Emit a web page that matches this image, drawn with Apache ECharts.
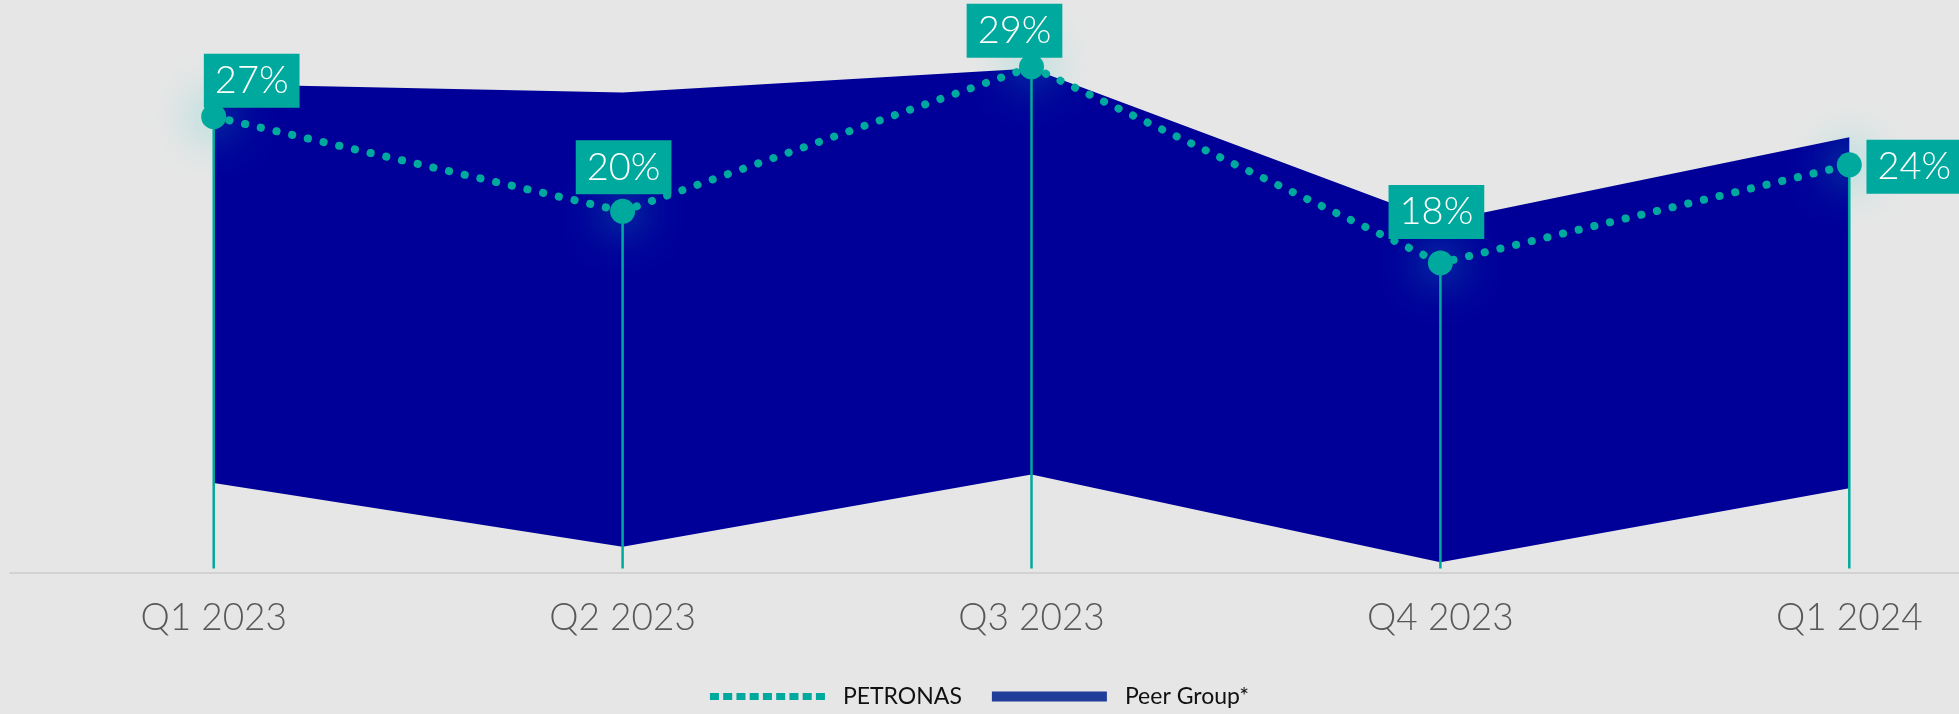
<!DOCTYPE html>
<html>
<head>
<meta charset="utf-8">
<script src="https://cdn.jsdelivr.net/npm/echarts@6/dist/echarts.min.js"></script>
<style>
html,body{margin:0;padding:0;background:#e6e6e6;}
#chart{width:1959px;height:714px;}
</style>
</head>
<body>
<div id="chart"></div>
<script>
// ---- data ----
const categories = ['Q1 2023', 'Q2 2023', 'Q3 2023', 'Q4 2023', 'Q1 2024'];
const petronas = [26.5, 21.0, 29.4, 18.0, 23.7];          // plotted positions
const petronasLabels = ['27%', '20%', '29%', '18%', '24%']; // printed labels
const peerUpper = [28.4, 27.9, 29.3, 20.4, 25.3];
const peerLower = [5.2, 1.5, 5.7, 0.6, 4.9];
const legendNames = ['PETRONAS', 'Peer Group*'];

// ---- styling ----
const TEAL = '#00a99d';
const BAND = '#000099';
const labelOffsets = [[38, -36], [1, -44], [-17, -36], [-4, -51], [65, 2]];

const peerSpan = peerUpper.map((u, i) => +(u - peerLower[i]).toFixed(2));

// dotted legend icon: 9 small squares
let iconPath = 'path://M0,-1.5L0.01,-1.5L0.01,-1.5Z M0,8.5L0.01,8.5L0.01,8.5Z';
for (let i = 0; i < 9; i++) {
  const x = i * 13.25;
  iconPath += ` M${x},0L${x + 9},0L${x + 9},7L${x},7Z`;
}

const chart = echarts.init(document.getElementById('chart'), null, {renderer: 'canvas'});

const option = {
  backgroundColor: '#e6e6e6',
  animation: false,
  legend: {
    left: 'center',
    top: 680,
    itemWidth: 115,
    itemHeight: 10,
    itemGap: 30,
    textStyle: {fontFamily: 'Lato', fontSize: 23, color: '#111', padding: [0, 0, 0, 13]},
    data: [
      {name: legendNames[0], icon: iconPath, itemStyle: {color: TEAL, borderWidth: 0}},
      {name: legendNames[1], icon: 'rect', itemStyle: {color: '#1f3d99', borderWidth: 0}}
    ]
  },
  grid: [
    {left: 213.7, right: 109.7, top: 56.5, bottom: 141.5, outerBoundsMode: 'none'},
    {left: 10, right: 0, top: 56.5, bottom: 141.5, outerBoundsMode: 'none'}
  ],
  xAxis: [
    {
      type: 'category', gridIndex: 0, data: categories, boundaryGap: false,
      axisLine: {show: false}, axisTick: {show: false}, splitLine: {show: false},
      axisLabel: {fontFamily: 'Lato', fontWeight: 300, fontSize: 37, color: '#585858', margin: 27}
    },
    {
      type: 'value', gridIndex: 1, min: 0, max: 1,
      axisLine: {show: true, onZero: false, lineStyle: {color: '#d2d2d2', width: 2}},
      axisTick: {show: false}, axisLabel: {show: false}, splitLine: {show: false}
    }
  ],
  yAxis: [
    {type: 'value', gridIndex: 0, min: 0, max: 30, show: false},
    {type: 'value', gridIndex: 1, min: 0, max: 1, show: false}
  ],
  series: [
    {
      name: 'peerLow', type: 'line', stack: 'band', data: peerLower,
      symbol: 'none', lineStyle: {width: 0}, areaStyle: {opacity: 0}, silent: true, z: 1
    },
    {
      name: legendNames[1], type: 'line', stack: 'band', data: peerSpan,
      symbol: 'none', lineStyle: {width: 0, color: BAND}, itemStyle: {color: BAND},
      areaStyle: {color: BAND, opacity: 1}, z: 2
    },
    {
      name: 'drops', type: 'custom', data: petronas.map((v, i) => [i, v]), z: 3,
      renderItem: function (params, api) {
        const top = api.coord([api.value(0), api.value(1)]);
        const base = api.coord([api.value(0), 0]);
        return {
          type: 'line',
          shape: {x1: top[0], y1: top[1], x2: base[0], y2: base[1] - 4},
          style: {stroke: TEAL, lineWidth: 2.5}
        };
      }
    },
    {
      name: legendNames[0], type: 'line', data: petronas.map((v, i) => ({
        value: v,
        label: {offset: labelOffsets[i]}
      })),
      z: 5,
      symbol: 'circle', symbolSize: 25,
      itemStyle: {color: TEAL, shadowBlur: 45, shadowColor: 'rgba(20,200,190,1)'},
      lineStyle: {color: TEAL, width: 8, type: [0.1, 16], cap: 'round'},
      label: {
        show: true, position: 'inside',
        formatter: p => petronasLabels[p.dataIndex],
        fontFamily: 'Lato', fontWeight: 300, fontSize: 38, lineHeight: 38,
        color: '#ffffff', backgroundColor: TEAL, padding: [8, 11]
      }
    }
  ]
};
chart.setOption(option);
</script>
</body>
</html>
